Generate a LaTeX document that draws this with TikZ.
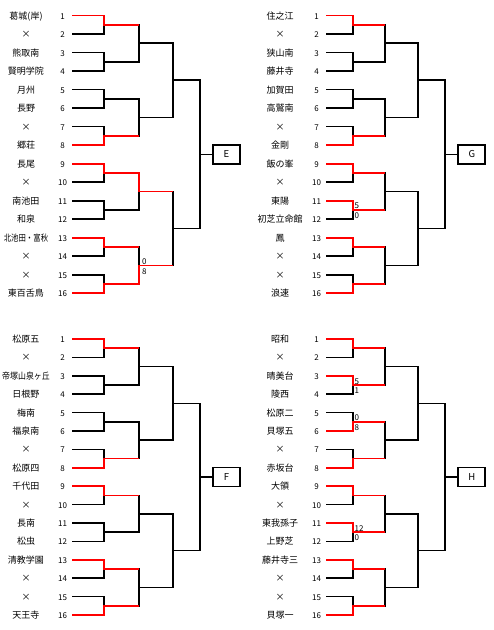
\documentclass[tikz,border=0pt]{standalone}
\usepackage{fontspec}
\setmainfont{Noto Sans CJK JP}
\tikzset{
  ln/.style={line width=1.7pt, line join=miter, black},
  win/.style={line width=1.7pt, line join=miter, red},
  nm/.style={font=\fontsize{9}{9}\selectfont, inner sep=0pt, text height=0.8em, text depth=0.1em},
  no/.style={font=\fontsize{8}{8}\selectfont, inner sep=0pt, text height=0.8em, text depth=0.1em},
  sc/.style={font=\fontsize{8}{8}\selectfont, inner sep=0pt, anchor=west, text height=0.75em, text depth=0em},
  bx/.style={draw, line width=1.7pt, fill=white, minimum width=27pt, minimum height=19pt, inner sep=0pt, font=\fontsize{9.5}{9.5}\selectfont}
}
% bracket settings
\newcommand\setbr[9]{\def\bt{#1}\def\by{#2}\def\bd{#3}\def\bxn{#4}\def\bxm{#5}\def\bxs{#6}\def\bxa{#7}\def\bxb{#8}\def\bxc{#9}}
\newcommand\setbrb[4]{\def\bxd{#1}\def\bxl{#2}\def\bxr{#3}\def\blt{#4}}
\newcommand\makebr{%
  \foreach \i in {1,...,16}{
    \pgfmathsetmacro\yy{\by+(\i-1)*\bd}
    \coordinate (\bt-s\i) at (\bxs pt,-\yy pt);
    \coordinate (\bt-a\i) at (\bxa pt,-\yy pt);
  }
  \foreach \k in {1,...,8}{
    \pgfmathsetmacro\yy{\by+(2*\k-1.5)*\bd}
    \coordinate (\bt-ra\k) at (\bxa pt,-\yy pt);
    \coordinate (\bt-rb\k) at (\bxb pt,-\yy pt);
  }
  \foreach \j in {1,...,4}{
    \pgfmathsetmacro\yy{\by+(4*\j-2.5)*\bd}
    \coordinate (\bt-qb\j) at (\bxb pt,-\yy pt);
    \coordinate (\bt-qc\j) at (\bxc pt,-\yy pt);
  }
  \foreach \l in {1,2}{
    \pgfmathsetmacro\yy{\by+(8*\l-4.5)*\bd}
    \coordinate (\bt-pc\l) at (\bxc pt,-\yy pt);
    \coordinate (\bt-pd\l) at (\bxd pt,-\yy pt);
  }
  \pgfmathsetmacro\yy{\by+7.5*\bd}
  \pgfmathsetmacro\xx{(\bxl+\bxr)/2}
  \coordinate (\bt-z) at (\bxd pt,-\yy pt);
  \node[bx] (\bt-box) at (\xx pt,-\yy pt) {\blt};
  % black structure
  \foreach \k in {1,...,8}{
    \pgfmathtruncatemacro\ra{2*\k-1}
    \pgfmathtruncatemacro\rb{2*\k}
    \draw[ln] (\bt-s\ra) -- (\bt-a\ra) -- (\bt-a\rb) -- (\bt-s\rb);
  }
  \foreach \j in {1,...,4}{
    \pgfmathtruncatemacro\ra{2*\j-1}
    \pgfmathtruncatemacro\rb{2*\j}
    \draw[ln] (\bt-ra\ra) -- (\bt-rb\ra) -- (\bt-rb\rb) -- (\bt-ra\rb);
  }
  \foreach \l in {1,2}{
    \pgfmathtruncatemacro\ra{2*\l-1}
    \pgfmathtruncatemacro\rb{2*\l}
    \draw[ln] (\bt-qb\ra) -- (\bt-qc\ra) -- (\bt-qc\rb) -- (\bt-qb\rb);
  }
  \draw[ln] (\bt-pc1) -- (\bt-pd1) -- (\bt-pd2) -- (\bt-pc2);
  \draw[ln] (\bt-z) -- (\bt-box.west);
}
\newcommand\names[1]{%
  \foreach \i/\n in {#1}{
    \pgfmathsetmacro\yy{\by+(\i-1)*\bd}
    \node[nm] (\bt-n\i) at (\bxn pt,-\yy pt) {\n};
    \node[no] (\bt-k\i) at (\bxm pt,-\yy pt) {\i};
  }
}
\newcommand\winone[1]{%
  \pgfmathtruncatemacro\kk{(#1+1)/2}
  \draw[win] (\bt-s#1) -- (\bt-a#1) -- (\bt-ra\kk) -- (\bt-rb\kk);}
\newcommand\wintwo[1]{%
  \pgfmathtruncatemacro\kk{(#1+1)/2}
  \pgfmathtruncatemacro\jj{(#1+3)/4}
  \draw[win] (\bt-s#1) -- (\bt-a#1) -- (\bt-ra\kk) -- (\bt-rb\kk) -- (\bt-qb\jj) -- (\bt-qc\jj);}
\newcommand\scoreone[4]{% match, top, bottom, offset
  \node[sc] (\bt-sa#1) at ([xshift=1.8pt,yshift=#4pt]\bt-ra#1) {#2};
  \node[sc] (\bt-sb#1) at ([xshift=1.8pt,yshift=-#4pt]\bt-ra#1) {#3};}
\newcommand\scoretwo[4]{%
  \node[sc] (\bt-ta#1) at ([xshift=2.5pt,yshift=#4pt]\bt-qb#1) {#2};
  \node[sc] (\bt-tb#1) at ([xshift=2.5pt,yshift=-#4pt]\bt-qb#1) {#3};}
\begin{document}
\begin{tikzpicture}
\useasboundingbox (0,0) rectangle (494pt,-630pt);
% ---------- E ----------
\setbr{E}{15.5}{18.52}{26}{62.5}{72}{104}{139.3}{173}
\setbrb{200}{213}{240}{E}
\makebr
\names{1/葛城(岸),2/×,3/熊取南,4/賢明学院,5/月州,6/長野,7/×,8/郷荘,9/長尾,10/×,11/南池田,12/和泉,13/{\scalebox{0.82}[1]{北池田・富秋}},14/×,15/×,16/東百舌鳥}
\winone{1}\winone{8}\wintwo{9}\winone{13}\wintwo{16}
\scoretwo{4}{0}{8}{5}
% ---------- G ----------
\setbr{G}{15.5}{18.52}{280}{316.6}{326}{352.7}{385}{417.7}
\setbrb{445}{458.3}{485.3}{G}
\makebr
\names{1/住之江,2/×,3/狭山南,4/藤井寺,5/加賀田,6/高鷲南,7/×,8/金剛,9/飯の峯,10/×,11/東陽,12/初芝立命館,13/鳳,14/×,15/×,16/浪速}
\winone{1}\winone{8}\winone{9}\winone{11}\winone{13}\winone{16}
\scoreone{6}{5}{0}{5}
% ---------- F ----------
\setbr{F}{339}{18.4}{26}{62.5}{72}{104}{139.3}{173}
\setbrb{200}{213}{240}{F}
\makebr
\names{1/松原五,2/×,3/{\scalebox{0.88}[1]{帝塚山泉ヶ丘}},4/日根野,5/梅南,6/福泉南,7/×,8/松原四,9/千代田,10/×,11/長南,12/松虫,13/清教学園,14/×,15/×,16/天王寺}
\winone{1}\winone{8}\winone{9}\winone{13}\winone{16}
% ---------- H ----------
\setbr{H}{339}{18.4}{280}{316.6}{326}{352.7}{385}{417.7}
\setbrb{445}{458.3}{485.3}{H}
\makebr
\names{1/昭和,2/×,3/晴美台,4/陵西,5/松原二,6/貝塚五,7/×,8/赤坂台,9/大領,10/×,11/東我孫子,12/上野芝,13/藤井寺三,14/×,15/×,16/貝塚一}
\winone{1}\winone{3}\winone{6}\winone{8}\winone{9}\winone{11}\winone{13}\winone{16}
\scoreone{2}{5}{1}{4.5}
\scoreone{3}{0}{8}{5}
\scoreone{6}{12}{0}{4.5}
\end{tikzpicture}
\end{document}
